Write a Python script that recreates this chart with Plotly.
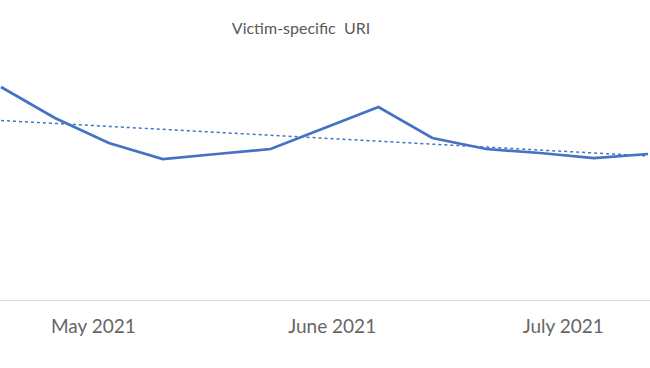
import numpy as np
import pandas as pd
import plotly.graph_objects as go

# Weekly dates and values (y-units are arbitrary)
dates = pd.date_range("2021-04-19", periods=13, freq="7D")
values = [213, 182, 157, 141, 146, 151, 172, 193, 162, 151, 147, 142, 146]
title_text = "Victim-specific\u00a0\u00a0URI"
tick_dates = ["2021-05-01", "2021-06-01", "2021-07-01"]
tick_labels = ["May 2021", "June 2021", "July 2021"]

# Linear trendline computed from the data
idx = np.arange(len(values))
slope, intercept = np.polyfit(idx, values, 1)
trend = slope * idx + intercept

fig = go.Figure()
fig.add_trace(go.Scatter(x=dates, y=trend, mode="lines",
                         line=dict(color="#4472C4", width=1.5, dash="dot"),
                         hoverinfo="skip", showlegend=False))
fig.add_trace(go.Scatter(x=dates, y=values, mode="lines",
                         line=dict(color="#4472C4", width=2.75),
                         showlegend=False))

fig.update_layout(
    width=650, height=368,
    margin=dict(l=0, r=0, t=60, b=68),
    paper_bgcolor="white", plot_bgcolor="white",
    title=dict(text=title_text, x=301 / 650, xanchor="center",
               y=1 - 28 / 368, yanchor="middle", yref="container",
               font=dict(family="Lato", size=16, color="#595959")),
    xaxis=dict(range=["2021-04-18 20:53", "2021-07-12 06:14"],
               tickvals=tick_dates, ticktext=tick_labels,
               showgrid=False, zeroline=False,
               showline=True, linecolor="#d9d9d9", linewidth=1,
               ticks="", ticklabelstandoff=9,
               tickfont=dict(family="Lato", size=19, color="#666666")),
    yaxis=dict(range=[0, 240], visible=False, showgrid=False),
)

fig.write_html("out.html")
